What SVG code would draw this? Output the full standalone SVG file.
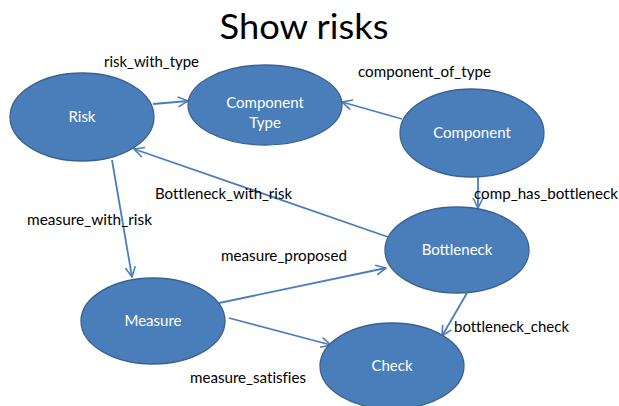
<svg xmlns="http://www.w3.org/2000/svg" width="619" height="406" viewBox="0 0 619 406">
<defs>
<marker id="arr" viewBox="0 0 12 12" refX="11" refY="6" markerWidth="12" markerHeight="12" markerUnits="userSpaceOnUse" orient="auto">
<path d="M1,1 L11,6 L1,11" fill="none" stroke="#4a7ebb" stroke-width="1.6"/>
</marker>
<style>
.node ellipse{fill:#4a7ebb;stroke:#3a6290;stroke-width:1.3}
.node text{fill:#ffffff;font-family:Lato,"Liberation Sans",sans-serif;font-size:15px;text-anchor:middle}
.edge line{stroke:#4a7ebb;stroke-width:1.8;marker-end:url(#arr)}
.lbl{fill:#000;font-family:Lato,"Liberation Sans",sans-serif;font-size:15px;font-variant-ligatures:none}
.title{fill:#000;font-family:Lato,"Liberation Sans",sans-serif;font-size:35px;text-anchor:middle}
</style>
</defs>
<rect width="619" height="406" fill="#ffffff"/>
<text class="title" x="304" y="39" textLength="169" lengthAdjust="spacingAndGlyphs">Show risks</text>
<g id="connectors" class="edge">
<line x1="153" y1="104" x2="188" y2="101"/>
<line x1="402" y1="119" x2="342" y2="102"/>
<line x1="478" y1="167" x2="478" y2="208"/>
<line x1="388" y1="237" x2="134" y2="149"/>
<line x1="112" y1="160" x2="132" y2="277"/>
<line x1="219" y1="303" x2="386" y2="268"/>
<line x1="229" y1="318" x2="331" y2="345"/>
<line x1="467" y1="293" x2="442" y2="336"/>
</g>
<g id="labels">
<text class="lbl" x="104" y="67" textLength="95" lengthAdjust="spacingAndGlyphs">risk_with_type</text>
<text class="lbl" x="358" y="77" textLength="133" lengthAdjust="spacingAndGlyphs">component_of_type</text>
<text class="lbl" x="474" y="199" textLength="144" lengthAdjust="spacingAndGlyphs">comp_has_bottleneck</text>
<text class="lbl" x="155" y="199" textLength="137" lengthAdjust="spacingAndGlyphs">Bottleneck_with_risk</text>
<text class="lbl" x="27" y="225" textLength="125" lengthAdjust="spacingAndGlyphs">measure_with_risk</text>
<text class="lbl" x="221" y="261" textLength="126" lengthAdjust="spacingAndGlyphs">measure_proposed</text>
<text class="lbl" x="190" y="383" textLength="116" lengthAdjust="spacingAndGlyphs">measure_satisfies</text>
<text class="lbl" x="454" y="332" textLength="115" lengthAdjust="spacingAndGlyphs">bottleneck_check</text>
</g>
<g id="risk" class="node"><ellipse cx="82" cy="117" rx="72" ry="44"/><text x="82" y="122">Risk</text></g>
<g id="componentType" class="node"><ellipse cx="265" cy="105" rx="77" ry="40"/><text x="265" y="108">Component</text><text x="265" y="128">Type</text></g>
<g id="component" class="node"><ellipse cx="472" cy="133" rx="72" ry="44"/><text x="472" y="138">Component</text></g>
<g id="bottleneck" class="node"><ellipse cx="457" cy="250" rx="72" ry="43"/><text x="457" y="255">Bottleneck</text></g>
<g id="measure" class="node"><ellipse cx="153" cy="321" rx="72" ry="43"/><text x="153" y="326">Measure</text></g>
<g id="check" class="node"><ellipse cx="392" cy="366" rx="72" ry="43"/><text x="392" y="371">Check</text></g>
</svg>
